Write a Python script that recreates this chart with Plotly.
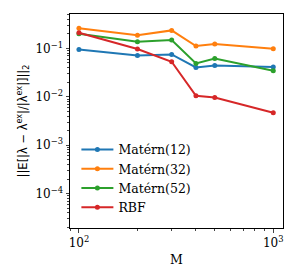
import plotly.graph_objects as go

M = [100, 200, 300, 400, 500, 1000]
matern12 = [0.095, 0.0716, 0.075, 0.0405, 0.0445, 0.041]
matern32 = [0.26, 0.186, 0.235, 0.112, 0.123, 0.098]
matern52 = [0.20, 0.137, 0.149, 0.049, 0.062, 0.0345]
rbf = [0.21, 0.097, 0.053, 0.0105, 0.0097, 0.0047]

names = ["Matérn(12)", "Matérn(32)", "Matérn(52)", "RBF"]
colors = ["#1f77b4", "#ff7f0e", "#2ca02c", "#d62728"]
series = [matern12, matern32, matern52, rbf]

fig = go.Figure()
for n, c, s in zip(names, colors, series):
    fig.add_trace(go.Scatter(x=M, y=s, mode="lines+markers", name=n,
                             line=dict(color=c, width=2),
                             marker=dict(color=c, size=5)))

xminor = [v * 10 ** e for e in (1, 2, 3) for v in range(2, 10)]
yminor = [v * 10 ** e for e in range(-6, 1) for v in range(2, 10)]

fig.update_layout(
    width=298, height=277,
    margin=dict(l=70, r=15, t=14, b=49),
    paper_bgcolor="white", plot_bgcolor="white",
    font=dict(family="DejaVu Serif", size=12, color="black"),
    showlegend=True,
    legend=dict(x=0.03, y=0.435, xanchor="left", yanchor="top",
                font=dict(family="DejaVu Serif", size=12.5),
                bgcolor="rgba(0,0,0,0)", tracegroupgap=0, itemwidth=32),
    xaxis=dict(type="log", range=[1.954, 3.05],
               tickvals=[100, 1000], ticktext=["10<sup>2</sup>", "10<sup>3</sup>"],
               ticks="outside", ticklen=3.5, showgrid=False, zeroline=False,
               showline=True, linecolor="black", linewidth=1, mirror=True,
               tickfont=dict(family="DejaVu Serif", size=12),
               minor=dict(tickvals=xminor, ticks="outside", ticklen=2, showgrid=False),
               title=dict(text="M", font=dict(family="DejaVu Serif", size=12.5), standoff=6)),
    yaxis=dict(type="log", range=[-4.71, -0.29],
               tickvals=[1e-4, 1e-3, 1e-2, 1e-1],
               ticktext=["10<sup>−4</sup>", "10<sup>−3</sup>", "10<sup>−2</sup>", "10<sup>−1</sup>"],
               ticks="outside", ticklen=3.5, showgrid=False, zeroline=False,
               showline=True, linecolor="black", linewidth=1, mirror=True,
               tickfont=dict(family="DejaVu Serif", size=12),
               minor=dict(tickvals=yminor, ticks="outside", ticklen=2, showgrid=False),
               title=dict(text="||E[|λ − λ<sup>ex</sup>|/|λ<sup>ex</sup>|]||<sub>2</sub>",
                          font=dict(family="DejaVu Sans", size=11.5), standoff=5)),
)

fig.write_html("out.html", config={"displayModeBar": False},
               post_script="document.body.style.margin='0';document.body.style.overflow='hidden';")
